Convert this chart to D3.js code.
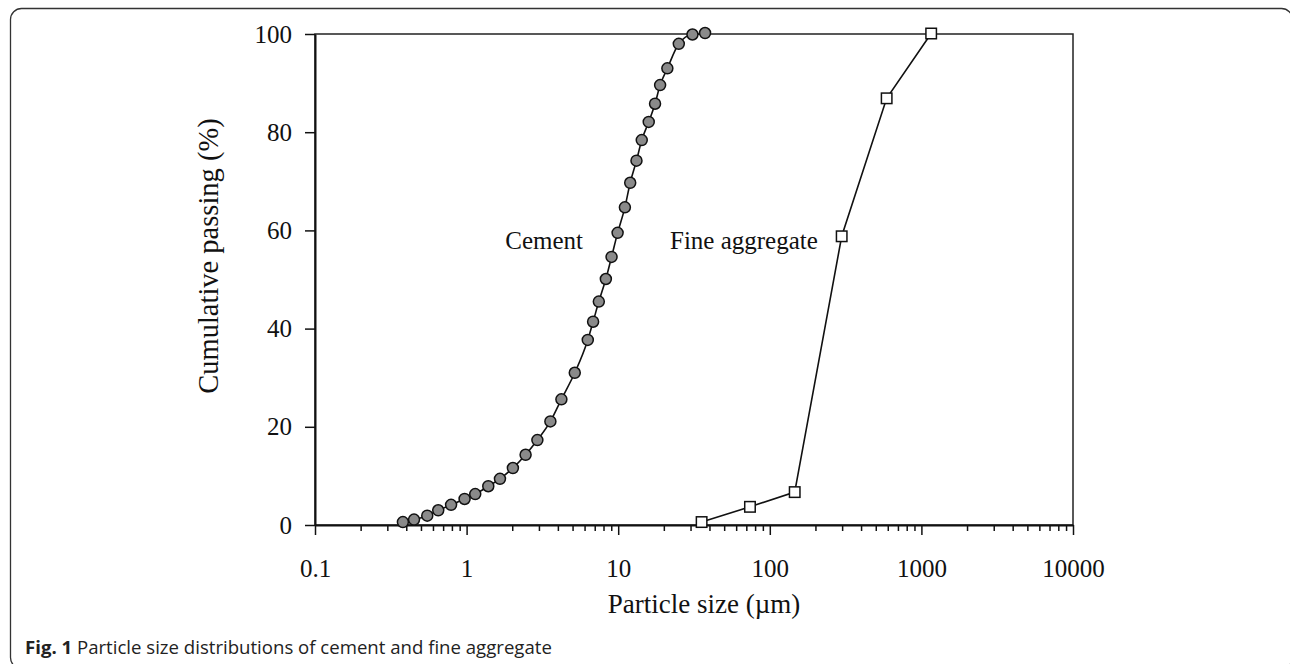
<!DOCTYPE html>
<html>
<head>
<meta charset="utf-8">
<script src="https://cdn.jsdelivr.net/npm/d3@7/dist/d3.min.js"></script>
<style>
  html, body { margin: 0; padding: 0; background: #fff; }
  svg { display: block; }
</style>
</head>
<body>
<svg id="chart" width="1290" height="664"></svg>
<script>
// ---- data ----
const cementSize = [0.38, 0.45, 0.55, 0.65, 0.79, 0.97, 1.14, 1.39, 1.66, 2.02, 2.45, 2.93, 3.57, 4.22,
  5.17, 6.3, 6.83, 7.45, 8.29, 9.04, 9.91, 11.07, 12.0, 13.2, 14.3, 15.9, 17.5, 18.9, 21.1, 25.1, 30.9, 37.4];
const cementPassing = [0.6, 1.1, 1.9, 3.0, 4.1, 5.3, 6.3, 7.9, 9.4, 11.6, 14.3, 17.3, 21.1, 25.6,
  31.0, 37.7, 41.4, 45.5, 50.1, 54.6, 59.5, 64.7, 69.7, 74.2, 78.4, 82.1, 85.8, 89.6, 93.0, 98.0, 99.9, 100.2];
const fineSize = [35.5, 74, 146, 298, 590, 1160];
const finePassing = [0.6, 3.7, 6.7, 58.8, 86.9, 100.1];
const xTickValues = [0.1, 1, 10, 100, 1000, 10000];
const xTickLabels = ["0.1", "1", "10", "100", "1000", "10000"];
const yTickValues = [0, 20, 40, 60, 80, 100];
const seriesLabels = ["Cement", "Fine aggregate"];
const xTitle = "Particle size (\u00b5m)";
const yTitle = "Cumulative passing (%)";
const captionBold = "Fig. 1";
const captionText = " Particle size distributions of cement and fine aggregate";

// ---- layout ----
const svg = d3.select("#chart");
const L = 315, R = 1073, T = 34, B = 525;
const serif = "'Liberation Serif', 'Times New Roman', serif";

const x = d3.scaleLog().domain([0.1, 10000]).range([L, R]);
const y = d3.scaleLinear().domain([0, 100]).range([B, T]);

// outer rounded frame
svg.append("rect")
  .attr("x", 10.5).attr("y", 8.5).attr("width", 1282).attr("height", 660)
  .attr("rx", 11).attr("ry", 11)
  .attr("fill", "none").attr("stroke", "#333").attr("stroke-width", 1.3);

// plot box
svg.append("rect")
  .attr("x", L).attr("y", T).attr("width", R - L).attr("height", B - T)
  .attr("fill", "none").attr("stroke", "#222").attr("stroke-width", 1.5);

// minor x ticks
const minorTicks = [];
for (let e = -1; e < 4; e++) for (let m = 2; m <= 9; m++) minorTicks.push(m * Math.pow(10, e));

const xMinor = svg.append("g").attr("transform", `translate(0,${B})`)
  .call(d3.axisBottom(x).tickValues(minorTicks).tickSize(6).tickFormat(""));
xMinor.select(".domain").remove();

const xAxis = svg.append("g").attr("transform", `translate(0,${B})`)
  .call(d3.axisBottom(x).tickValues(xTickValues).tickSize(10).tickSizeOuter(0).tickPadding(24)
    .tickFormat((d, i) => xTickLabels[i]));

const yAxis = svg.append("g").attr("transform", `translate(${L},0)`)
  .call(d3.axisLeft(y).tickValues(yTickValues).tickSize(10).tickSizeOuter(0).tickPadding(13)
    .tickFormat(d3.format("d")));

[xAxis, yAxis, xMinor].forEach(g => {
  g.selectAll("line").attr("stroke", "#111").attr("stroke-width", 1.5);
  g.selectAll(".domain").attr("stroke", "#111").attr("stroke-width", 2);
  g.selectAll("text").attr("font-family", serif).attr("font-size", 25).attr("fill", "#111");
});

// axis titles
svg.append("text")
  .attr("x", 704).attr("y", 604).attr("dy", "0.35em")
  .attr("text-anchor", "middle")
  .attr("font-family", serif).attr("font-size", 27).attr("fill", "#111")
  .text(xTitle);

svg.append("text")
  .attr("transform", "translate(208,256) rotate(-90)")
  .attr("dy", "0.35em")
  .attr("text-anchor", "middle")
  .attr("font-family", serif).attr("font-size", 28.5).attr("fill", "#111")
  .text(yTitle);

// cement curve
const cement = cementSize.map((s, i) => ({ s, p: cementPassing[i] }));
const fine = fineSize.map((s, i) => ({ s, p: finePassing[i] }));

svg.append("path")
  .datum(cement)
  .attr("fill", "none").attr("stroke", "#111").attr("stroke-width", 1.6)
  .attr("d", d3.line().x(d => x(d.s)).y(d => y(Math.min(d.p, 100))).curve(d3.curveMonotoneX));

svg.append("g").selectAll("circle")
  .data(cement).join("circle")
  .attr("cx", d => x(d.s)).attr("cy", d => y(d.p))
  .attr("r", 5.5)
  .attr("fill", "#8a8a8a").attr("stroke", "#111").attr("stroke-width", 1.5);

// fine aggregate
svg.append("path")
  .datum(fine)
  .attr("fill", "none").attr("stroke", "#111").attr("stroke-width", 1.6)
  .attr("d", d3.line().x(d => x(d.s)).y(d => y(d.p)));

const sq = 10.5;
svg.append("g").selectAll("rect")
  .data(fine).join("rect")
  .attr("x", d => x(d.s) - sq / 2).attr("y", d => y(d.p) - sq / 2)
  .attr("width", sq).attr("height", sq)
  .attr("fill", "#fff").attr("stroke", "#111").attr("stroke-width", 1.5);

// series labels
svg.append("text")
  .attr("x", 583).attr("y", 240).attr("dy", "0.35em")
  .attr("text-anchor", "end")
  .attr("font-family", serif).attr("font-size", 25).attr("fill", "#111")
  .text(seriesLabels[0]);

svg.append("text")
  .attr("x", 670).attr("y", 240).attr("dy", "0.35em")
  .attr("text-anchor", "start")
  .attr("font-family", serif).attr("font-size", 25).attr("fill", "#111")
  .text(seriesLabels[1]);

// caption
const cap = svg.append("text")
  .attr("x", 25).attr("y", 654)
  .attr("font-family", "'Open Sans', 'Noto Sans', sans-serif").attr("font-size", 18.6).attr("fill", "#222");
cap.append("tspan").attr("font-weight", "bold").text(captionBold);
cap.append("tspan").text(captionText);
</script>
</body>
</html>
